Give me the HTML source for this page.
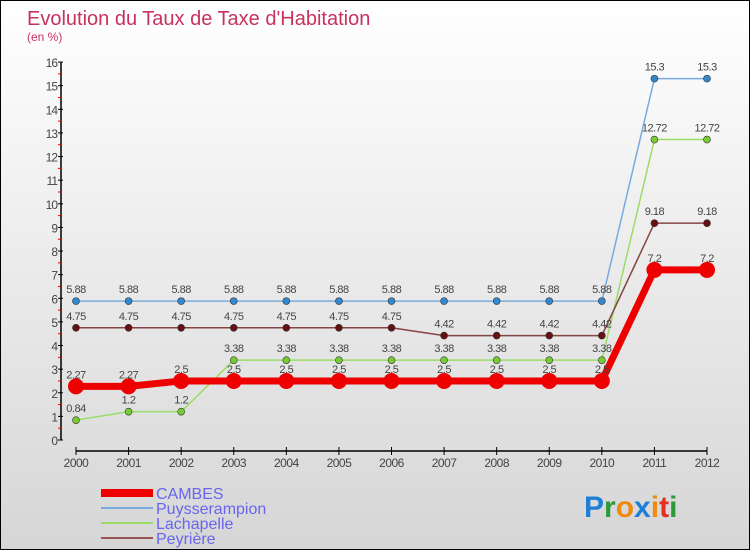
<!DOCTYPE html>
<html><head><meta charset="utf-8"><style>
body{margin:0}
#c{width:748px;height:548px;border:1px solid #000;background:linear-gradient(#ffffff,#d6d6d6);position:relative;overflow:hidden;font-family:"Liberation Sans",sans-serif}
svg{position:absolute;left:0;top:0}
</style></head><body>
<div id="c">
<svg id="s" width="748" height="548">
<text x="26" y="24" font-size="20" fill="#c8325f">Evolution du Taux de Taxe d'Habitation</text>
<text x="26" y="40" font-size="12" fill="#c8325f">(en %)</text>
<g font-size="30" font-weight="bold">
<text x="583" y="516"><tspan fill="#1e7fd8">P</tspan><tspan fill="#2a9a3a">r</tspan><tspan fill="#f08a10">o</tspan><tspan fill="#1e7fd8">x</tspan><tspan fill="#f08a10">i</tspan><tspan fill="#e53020">t</tspan><tspan fill="#2a9a3a">i</tspan></text>
</g>
</svg>
</div>
<script>
const years=["2000","2001","2002","2003","2004","2005","2006","2007","2008","2009","2010","2011","2012"];
const cambes=[2.27,2.27,2.5,2.5,2.5,2.5,2.5,2.5,2.5,2.5,2.5,7.2,7.2];
const puysserampion=[5.88,5.88,5.88,5.88,5.88,5.88,5.88,5.88,5.88,5.88,5.88,15.3,15.3];
const lachapelle=[0.84,1.2,1.2,3.38,3.38,3.38,3.38,3.38,3.38,3.38,3.38,12.72,12.72];
const peyriere=[4.75,4.75,4.75,4.75,4.75,4.75,4.75,4.42,4.42,4.42,4.42,9.18,9.18];
const yTicks=[0,1,2,3,4,5,6,7,8,9,10,11,12,13,14,15,16];
const NS="http://www.w3.org/2000/svg";
const s=document.getElementById('s');
const X=i=>75+i*(631/12);
const Y=v=>439-v*23.62;
function el(t,a,p){const e=document.createElementNS(NS,t);for(const k in a)e.setAttribute(k,a[k]);(p||s).appendChild(e);return e;}
// axes
const ax=el('g',{});


const yl=el('line',{x1:60,y1:Y(16),x2:60,y2:Y(0),stroke:'#000','stroke-width':1.5},ax);


yTicks.forEach(v=>{
  el('line',{x1:57,y1:Y(v),x2:62,y2:Y(v),stroke:'#000'},ax);
  if(v<16) el('line',{x1:57,y1:Y(v+0.5),x2:60,y2:Y(v+0.5),stroke:'#e00'},ax);
  const t=el('text',{x:56,y:Y(v)+5,'text-anchor':'end','font-size':12,fill:'#444','letter-spacing':'-1'},ax);
  t.textContent=v;
  
  
});
const xl=el('line',{x1:X(0),y1:450,x2:X(12),y2:450,stroke:'#000','stroke-width':1.5},ax);


years.forEach((y,i)=>{
  el('line',{x1:X(i),y1:446,x2:X(i),y2:454,stroke:'#000'},ax);
  const t=el('text',{x:X(i),y:466,'text-anchor':'middle','font-size':12,fill:'#444','letter-spacing':'-0.5'},ax);
  t.textContent=y;
  
  
});
function series(name,data,color,w,r,fill){
  const g=el('g',{});
  
  
  const pl=el('polyline',{points:data.map((v,i)=>X(i)+','+Y(v)).join(' '),fill:'none',stroke:color,'stroke-width':w},g);
  
  
  data.forEach((v,i)=>{
    const c=el('circle',{cx:X(i),cy:Y(v),r:r,fill:fill,stroke:'#333','stroke-width':r>5?0:0.6},g);
    
    
    const t=el('text',{x:X(i),y:Y(v)-8,'text-anchor':'middle','font-size':11,fill:'#444','letter-spacing':'-0.5'},g);
    t.textContent=v;
    
    
  });
}
series('lachapelle',lachapelle,'#99dd66',1.5,3.5,'#77cc33');
series('peyriere',peyriere,'#884444',1.5,3.5,'#661111');
series('puysserampion',puysserampion,'#77aadd',1.5,3.5,'#3388cc');
series('cambes',cambes,'#ee0000',7,8,'#ee0000');
// legend
const leg=[['CAMBES','#ee0000',8],['Puysserampion','#77aadd',2],['Lachapelle','#99dd66',2],['Peyrière','#995555',2]];
leg.forEach((l,i)=>{
  const y=492+i*15;
  const g=el('g',{});
  
  
  el('line',{x1:100,y1:y,x2:152,y2:y,stroke:l[1],'stroke-width':l[2]},g);
  const t=el('text',{x:155,y:y+6,'font-size':16,fill:'#6666ee'},g);
  t.textContent=l[0];
});
</script>
</body></html>
